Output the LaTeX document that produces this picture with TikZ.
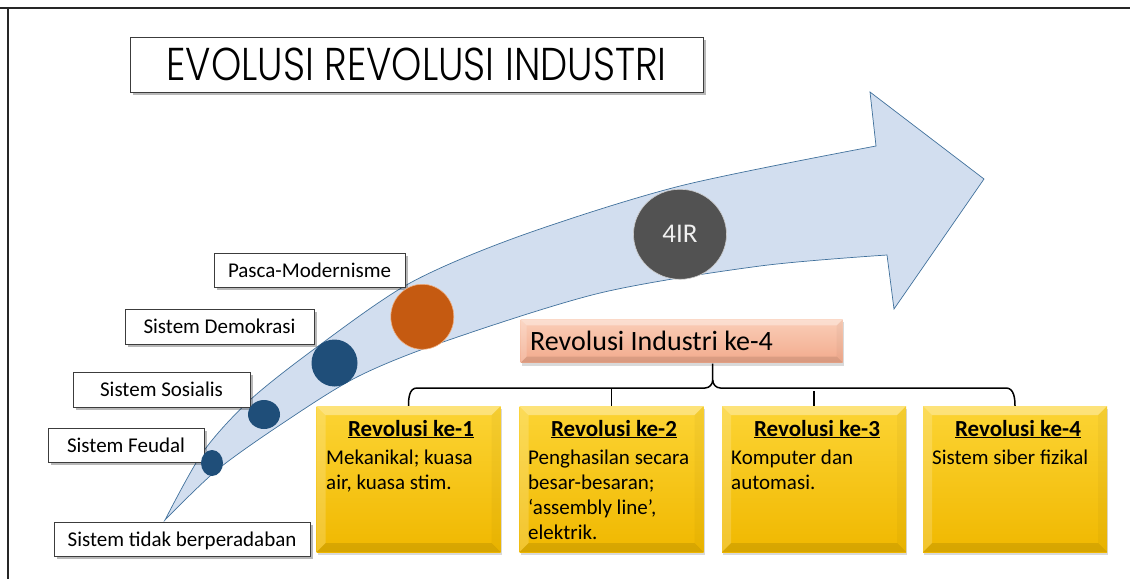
\documentclass[tikz,border=0pt]{standalone}
\usepackage{fontspec}
\setmainfont{Carlito}
\newfontfamily\titlefont{Poppins Light}
\usetikzlibrary{shapes.geometric,calc}
\definecolor{arrowfill}{RGB}{210,222,239}
\definecolor{arrowline}{RGB}{65,113,156}
\definecolor{darkblue}{RGB}{31,78,121}
\definecolor{orng}{RGB}{197,90,17}
\definecolor{orngline}{RGB}{240,175,130}
\definecolor{grey4}{RGB}{82,82,82}
\definecolor{boxline}{RGB}{60,60,60}
\definecolor{yeltop}{RGB}{252,212,52}
\definecolor{yelbot}{RGB}{240,184,0}
\definecolor{saltop}{RGB}{250,206,184}
\definecolor{salbot}{RGB}{242,170,140}
\tikzset{
  shadowed/.style={preaction={fill=black,fill opacity=0.28,transform canvas={xshift=2.5pt,yshift=-3pt}}},
  softshadow/.style={preaction={fill=black,fill opacity=0.15,transform canvas={xshift=1pt,yshift=-3pt}}},
  labelbox/.style={draw=boxline, line width=0.8pt, fill=white, shadowed, inner sep=0pt,
    font=\fontsize{21}{25}\selectfont, text height=16pt, text depth=2pt},
  dot/.style={ellipse, inner sep=0pt},
  bevel/.style n args={3}{path picture={
    \coordinate (pNW) at (path picture bounding box.north west);
    \coordinate (pNE) at (path picture bounding box.north east);
    \coordinate (pSW) at (path picture bounding box.south west);
    \coordinate (pSE) at (path picture bounding box.south east);
    \shade[top color=#1, bottom color=#2] (pNW) rectangle (pSE);
    \fill[white, opacity=0.35] (pNW) -- (pNE) -- ([shift={(-#3,-#3)}]pNE) -- ([shift={(#3,-#3)}]pNW) -- cycle;
    \fill[white, opacity=0.18] (pNW) -- ([shift={(#3,-#3)}]pNW) -- ([shift={(#3,#3)}]pSW) -- (pSW) -- cycle;
    \fill[black, opacity=0.03] (pNE) -- ([shift={(-#3,-#3)}]pNE) -- ([shift={(-#3,#3)}]pSE) -- (pSE) -- cycle;
    \fill[black, opacity=0.10] (pSW) -- ([shift={(#3,#3)}]pSW) -- ([shift={(-#3,#3)}]pSE) -- (pSE) -- cycle;
  }},
  yellowbox/.style={minimum width=184pt, minimum height=146pt, inner sep=0pt,
    bevel={yeltop}{yelbot}{9pt}, softshadow},
  ytitle/.style={anchor=base, inner sep=0pt, font=\fontsize{23}{26}\selectfont\bfseries},
  ybody/.style={anchor=base west, inner sep=0pt, text width=176pt, align=flush left,
    font=\fontsize{21}{25}\selectfont},
  bracestyle/.style={line width=1.5pt, black}
}
\begin{document}
\begin{tikzpicture}[x=1pt, y=-1pt]
\useasboundingbox (0,0) rectangle (1130,579);
% frame
\draw[line width=2.2pt, black!85] (0,8) -- (1130,8);
\draw[line width=2.2pt, black!85] (8,8) -- (8,579);

% curved arrow
\filldraw[fill=arrowfill, draw=arrowline, line width=0.7pt, line join=miter]
  plot[smooth, tension=0.5] coordinates {(165,520) (203,452) (250,400) (317,347) (410,283) (520,236) (680,186) (876,146)}
  -- (870,92) -- (984,179) -- (894,309) -- (887,255)
  -- plot[smooth, tension=0.5] coordinates {(887,255) (760,266) (600,293) (443,342) (357,377) (283,423) (217,470) (165,520)}
  -- cycle;

% title
\node[draw=boxline, line width=0.8pt, fill=white, shadowed, minimum width=573pt, minimum height=55pt,
  inner sep=0pt, font=\titlefont\fontsize{46}{50}\selectfont, text height=32pt, text depth=0pt]
  (title) at (416.5,64.5) {\resizebox{500pt}{\height}{EVOLUSI REVOLUSI INDUSTRI}};

% label boxes
\node[labelbox, minimum width=191pt, minimum height=34pt] (pm) at (309.5,270) {Pasca-Modernisme};
\node[labelbox, minimum width=189pt, minimum height=35pt] (sd) at (219.5,326.5) {Sistem Demokrasi};
\node[labelbox, minimum width=177pt, minimum height=35pt] (ss) at (161.5,389.5) {Sistem Sosialis};
\node[labelbox, minimum width=156pt, minimum height=34pt] (sf) at (126,445) {Sistem Feudal};
\node[labelbox, minimum width=256pt, minimum height=34pt] (st) at (182,539) {Sistem tidak berperadaban};

% circles
\node[dot, fill=darkblue, minimum width=22pt, minimum height=26pt] (c1) at (212,463) {};
\node[dot, fill=darkblue, minimum width=32pt, minimum height=29pt] (c2) at (264,414.5) {};
\node[dot, fill=darkblue, minimum width=46pt, minimum height=47pt] (c3) at (334.5,363) {};
\node[dot, fill=orng, draw=orngline, line width=0.6pt, minimum width=63pt, minimum height=65pt] (c4) at (422.3,316.8) {};
\node[dot, fill=grey4, draw=white!80!black, line width=0.6pt, minimum width=93pt, minimum height=90pt,
  text=white!94!black, font=\fontsize{27}{30}\selectfont] (c5) at (680,234.3) {4IR};

% Revolusi Industri ke-4 box
\node[minimum width=322pt, minimum height=43.4pt, inner sep=0pt, bevel={saltop}{salbot}{6pt}, softshadow]
  (ri4) at (681.7,341) {};
\node[anchor=base west, inner sep=0pt, font=\fontsize{28}{32}\selectfont] (ri4t) at (530,350) {Revolusi Industri ke-4};

% yellow boxes
\node[yellowbox] (r1) at (408.5,479) {};
\node[yellowbox] (r2) at (611.5,479) {};
\node[yellowbox] (r3) at (814,479) {};
\node[yellowbox] (r4) at (1015,479) {};

% brace
\coordinate (b1) at (417,388);
\coordinate (b2) at (705,388);
\coordinate (cp) at (712.7,380);
\coordinate (ct) at (712.7,363.5);
\coordinate (b3) at (720.4,388);
\coordinate (b4) at (1006,388);
\coordinate (t3) at (815,391);
\draw[bracestyle] (r1.north) to[out=90,in=180] (b1) -- (b2) to[out=0,in=-90] (cp) -- (ct);
\draw[bracestyle] (cp) to[out=-90,in=180] (b3) -- (b4) to[out=0,in=90] (r4.north);
\draw[bracestyle] (r2.north) -- (r2.north |- b1);
\draw[bracestyle] (r3.north) -- (r3.north |- t3);

% yellow box texts
\node[ytitle] (r1t) at (411,436) {\underline{Revolusi ke-1}};
\node[ytitle] (r2t) at (614,436) {\underline{Revolusi ke-2}};
\node[ytitle] (r3t) at (817,436) {\underline{Revolusi ke-3}};
\node[ytitle] (r4t) at (1018,436) {\underline{Revolusi ke-4}};
\node[ybody] (r1b) at (326,464) {Mekanikal; kuasa\\air, kuasa stim.};
\node[ybody] (r2b) at (528,464) {Penghasilan secara\\besar-besaran;\\‘assembly line’,\\elektrik.};
\node[ybody] (r3b) at (731,464) {Komputer dan\\automasi.};
\node[ybody] (r4b) at (932,464) {Sistem siber fizikal};
\end{tikzpicture}
\end{document}
